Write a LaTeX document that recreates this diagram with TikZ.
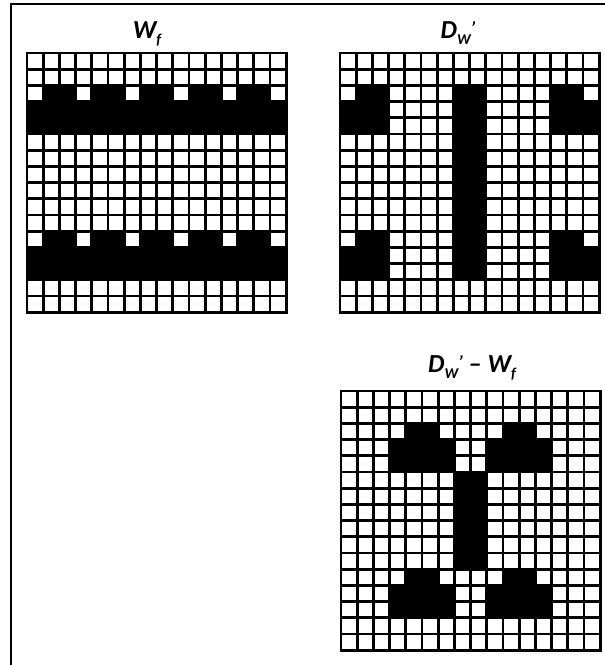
\documentclass[tikz,border=0pt]{standalone}
\usepackage{fontspec}
\setmainfont{Carlito}
\usepackage{tikz}
\usetikzlibrary{
    arrows.meta,
    positioning
}

% empty 16x16 grid in cell units
\newcommand{\blankgrid}{%
    \fill[black] (-0.09,-0.09) rectangle (16.09,16.09);
    \foreach \i in {0,...,15}
        \foreach \j in {0,...,15}
            \fill[white] (\i+0.085,\j+0.085) rectangle (\i+0.915,\j+0.915);
}
\newcommand{\sub}[1]{\raisebox{-0.55ex}{\fontsize{15}{16}\selectfont #1}}
\newcommand{\primemark}{\raisebox{0.3ex}{\fontsize{18}{18}\selectfont ’}}

\begin{document}
\begin{tikzpicture}[
        x=1pt,
        y=-1pt,
        title/.style={
            anchor=base,
            inner sep=0pt,
            font=\fontsize{26}{28}\selectfont\bfseries\itshape
        },
        frame/.style={
            line width=2.2pt
        }
    ]
        \useasboundingbox (0,0) rectangle (605,665);
        \draw[frame] (11,666) -- (11,4) -- (606,4);

        % titles
        \node[title] (Wf) at (147,38) {W\sub{f}};
        \node[title] (DW) at (458,38) {D\sub{W}\primemark};
        \node[title] (DWWf) at (472,372) {D\sub{W}\primemark\ – W\sub{f}};

        % W_f
        \begin{scope}[shift={(27,53)}, x=16.2pt, y=-16.2pt]
            \blankgrid
            \foreach \r in {2,11} {
                \foreach \a in {1,4,7,10,13}
                    \fill[black] (\a,\r) rectangle (\a+2,\r+1);
                \fill[black] (0,\r+1) rectangle (16,\r+3);
            }
        \end{scope}

        % D_W'
        \begin{scope}[shift={(340,53)}, x=16.2pt, y=-16.2pt]
            \blankgrid
            \foreach \r in {2,11} {
                \fill[black] (1,\r) rectangle (3,\r+1);
                \fill[black] (0,\r+1) rectangle (3,\r+3);
                \fill[black] (13,\r) rectangle (15,\r+1);
                \fill[black] (13,\r+1) rectangle (16,\r+3);
            }
            \fill[black] (7,2) rectangle (9,14);
        \end{scope}

        % D_W' - W_f
        \begin{scope}[shift={(341,391)}, x=16.2pt, y=-16.2pt]
            \blankgrid
            \foreach \r in {2,11} {
                \fill[black] (4,\r) rectangle (6,\r+1);
                \fill[black] (3,\r+1) rectangle (7,\r+3);
                \fill[black] (10,\r) rectangle (12,\r+1);
                \fill[black] (9,\r+1) rectangle (13,\r+3);
            }
            \fill[black] (7,5) rectangle (9,11);
        \end{scope}
    \end{tikzpicture}
\end{document}
